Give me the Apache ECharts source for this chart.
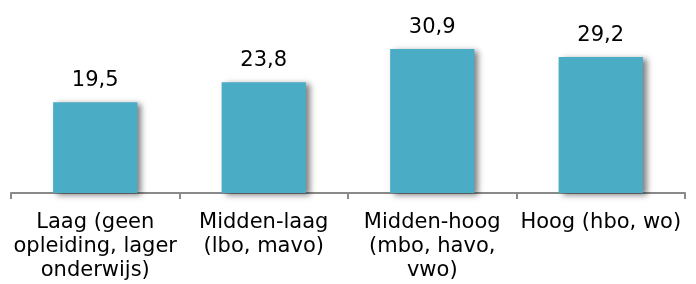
<!DOCTYPE html>
<html><head><meta charset="utf-8">
<script src="https://cdn.jsdelivr.net/npm/echarts@6/dist/echarts.min.js"></script>
<style>html,body{margin:0;padding:0;background:#fff}#c{width:696px;height:284px}</style>
</head><body><div id="c"></div>
<script>
const categories = ["Laag (geen\nopleiding, lager\nonderwijs)", "Midden-laag\n(lbo, mavo)", "Midden-hoog\n(mbo, havo,\nvwo)", "Hoog (hbo, wo)"];
const values = [19.5, 23.8, 30.9, 29.2];
const chart = echarts.init(document.getElementById('c'), null, {renderer: 'canvas'});
chart.setOption({
  animation: false,
  grid: {left: 11, right: 11, top: 30, bottom: 91},
  xAxis: {
    type: 'category', data: categories,
    axisLine: {lineStyle: {color: '#8a8a8a', width: 2}},
    axisTick: {show: true, length: 6, lineStyle: {color: '#8a8a8a', width: 2}},
    axisLabel: {interval: 0, fontFamily: 'DejaVu Sans', fontSize: 21, lineHeight: 24, color: '#000', margin: 18, align: 'center'}
  },
  yAxis: {type: 'value', min: 0, max: 35, show: false, splitLine: {show: false}},
  series: [{
    type: 'bar', data: values, barWidth: '50%',
    itemStyle: {color: '#4bacc6', shadowColor: 'rgba(0,0,0,0.5)', shadowBlur: 6, shadowOffsetX: 4, shadowOffsetY: 2},
    label: {show: true, position: 'top', distance: 11, fontFamily: 'DejaVu Sans', fontSize: 21, color: '#000',
      formatter: p => p.value.toFixed(1).replace('.', ',')}
  }]
});
</script></body></html>
